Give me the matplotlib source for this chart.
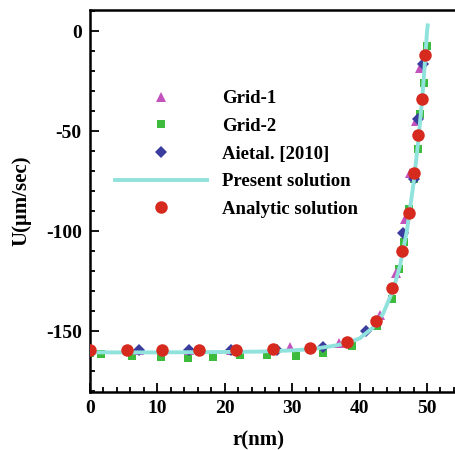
import matplotlib
matplotlib.use('Agg')
import matplotlib.pyplot as plt
from matplotlib.ticker import MultipleLocator

plt.rcParams['font.family'] = ['Liberation Serif', 'DejaVu Serif']
plt.rcParams['font.weight'] = 'bold'
plt.rcParams['axes.unicode_minus'] = False

# Grid-1 (triangles)
g1_r = [0, 7.2, 14.7, 20.9, 29.7, 37.0, 43.0, 45.4, 46.7, 47.5, 48.4, 49.0]
g1_u = [-159.5, -159.5, -159.5, -159.5, -157.6, -155.6, -141.7, -121, -94, -70.6, -45, -18.4]

# Grid-2 (squares)
g2_r = [0, 1.6, 6.2, 10.5, 14.6, 18.3, 22.3, 26.3, 30.6, 34.6, 38.9, 42.6,
        44.8, 45.8, 46.6, 47.3, 48.0, 48.6, 49.0, 49.5, 50.0]
g2_u = [-161, -161.2, -162.2, -163, -163.4, -163, -162, -161.8, -162.2, -161, -157.3, -147.5,
        -133.8, -118.9, -105.5, -89, -74, -58.9, -41.4, -25.6, -7.1]

# Aietal. [2010] (diamonds)
ai_r = [0, 7.2, 14.7, 20.9, 27.8, 34.6, 41.0, 46.5, 48.0, 48.7, 49.4]
ai_u = [-159.5, -159.5, -159.5, -159.5, -159.3, -157.6, -150, -101, -74, -44, -16.5]

# Present solution (line)
ps_r = [0, 10, 20, 25, 30, 33, 36, 38, 40, 42, 43.5, 45, 46, 47, 48, 48.7, 49.3, 49.7, 50.0, 50.1]
ps_u = [-160.5, -160.5, -160.3, -160.1, -159.5, -158.8, -157.3, -156, -153.5, -148, -141,
        -129, -117, -100, -76, -55, -33, -15, 0, 3]

# Analytic solution (circles)
an_r = [0, 5.5, 10.7, 16.2, 21.7, 27.2, 32.7, 38.2, 42.5, 44.8, 46.3, 47.3, 48.1, 48.7, 49.2, 49.7]
an_u = [-159.3, -159.3, -159.3, -159.3, -159.1, -158.9, -158.3, -155.4, -144.7, -128.4,
        -109.6, -91, -71, -52, -33.7, -11.7]

fig = plt.figure(figsize=(4.56, 4.50), dpi=100)
ax = fig.add_axes([90/456, 58/450, 1 - 90/456, 382/450])

ax.plot(g2_r, g2_u, 's', color='#3dbb3d', ms=6.4, mew=0, label='Grid-2', zorder=2)
ax.plot(g1_r, g1_u, '^', color='#c452bd', ms=7.5, mew=0, label='Grid-1', zorder=3)
ax.plot(ai_r, ai_u, 'D', color='#3a3c9e', ms=6.2, mew=0, label='Aietal. [2010]', zorder=4)
ax.plot(ps_r, ps_u, '-', color='#90e2dc', lw=2.8, label='Present solution', zorder=5)
ax.plot(an_r, an_u, 'o', color='#d62a1f', ms=9, mew=0, label='Analytic solution', zorder=6)

ax.set_xlim(0, 54.3)
ax.set_ylim(-180.3, 10.7)
ax.xaxis.set_major_locator(MultipleLocator(10))
ax.xaxis.set_minor_locator(MultipleLocator(2))
ax.yaxis.set_major_locator(MultipleLocator(50))
ax.yaxis.set_minor_locator(MultipleLocator(10))
ax.tick_params(which='both', direction='in', width=1.3, top=False, right=False,
               labelsize=14, pad=6)
ax.tick_params(which='major', length=6.5)
ax.tick_params(which='minor', length=3.6)
for lab in ax.get_xticklabels() + ax.get_yticklabels():
    lab.set_fontweight('bold')

ax.spines['right'].set_visible(False)
for s in ['left', 'bottom', 'top']:
    ax.spines[s].set_linewidth(1.8)

ax.set_xlabel('r(nm)', fontsize=15, fontweight='bold')
ax.xaxis.set_label_coords(25 / 54.3, -0.10)
ax.set_ylabel('U(\u03bcm/sec)', fontsize=15, fontweight='bold')
ax.yaxis.set_label_coords(-0.16, 0.50)

h, l = ax.get_legend_handles_labels()
order = [1, 0, 2, 3, 4]
ax.legend([h[i] for i in order], [l[i] for i in order], loc='upper left',
          bbox_to_anchor=(25/366, 0.79), frameon=False, numpoints=1,
          handlelength=4.9, handletextpad=0.8, labelspacing=0.56,
          borderpad=0, borderaxespad=0, prop={'size': 13.5, 'weight': 'bold'})

fig.savefig('out.png', dpi=100)
